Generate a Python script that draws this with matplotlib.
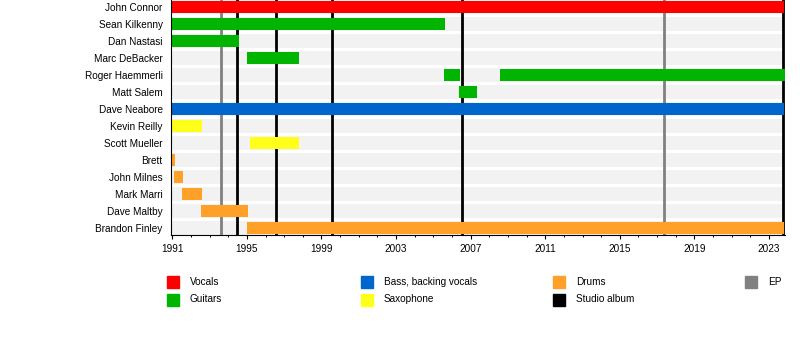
import matplotlib
matplotlib.use("Agg")
import matplotlib.pyplot as plt
from matplotlib.patches import Rectangle

plt.rcParams['font.family'] = ['Liberation Sans', 'DejaVu Sans']
plt.rcParams['font.size'] = 7.2

START = 1990.93
END = 2023.83

members = ["John Connor", "Sean Kilkenny", "Dan Nastasi", "Marc DeBacker",
           "Roger Haemmerli", "Matt Salem", "Dave Neabore", "Kevin Reilly",
           "Scott Mueller", "Brett", "John Milnes", "Mark Marri",
           "Dave Maltby", "Brandon Finley"]

roles = ["Vocals", "Guitars", "Bass, backing vocals", "Drums", "Saxophone"]
role_colors = ["#ff0000", "#00b400", "#0066cc", "#ffa028", "#ffff1a"]

# one entry per stint
stint_member = ["John Connor", "Sean Kilkenny", "Dan Nastasi", "Marc DeBacker",
                "Roger Haemmerli", "Roger Haemmerli", "Matt Salem", "Dave Neabore",
                "Kevin Reilly", "Scott Mueller", "Brett", "John Milnes",
                "Mark Marri", "Dave Maltby", "Brandon Finley"]
stint_role = ["Vocals", "Guitars", "Guitars", "Guitars",
              "Guitars", "Guitars", "Guitars", "Bass, backing vocals",
              "Saxophone", "Saxophone", "Drums", "Drums",
              "Drums", "Drums", "Drums"]
stint_start = [START, START, START, 1995.0,
               2005.57, 2008.57, 2006.37, START,
               START, 1995.17, START, 1991.09,
               1991.52, 1992.52, 1995.0]
stint_end = [END, 2005.62, 1994.55, 1997.78,
             2006.42, END, 2007.33, END,
             1992.6, 1997.81, 1991.15, 1991.57,
             1992.59, 1995.06, END]

studio_albums = [1994.49, 1996.58, 1999.58, 2006.52, 2023.77]
eps = [1993.61, 2017.38]

fig = plt.figure(figsize=(8, 3.54), dpi=100)
ax = fig.add_axes([171 / 800, 1 - 235 / 354, (784.5 - 171) / 800, 235 / 354])

ypos = {m: i for i, m in enumerate(members)}

# background stripes
ax.barh(range(len(members)), END - START, left=START, height=0.8,
        color="#f2f2f2", zorder=0)

for x in studio_albums:
    ax.axvline(x, color="black", lw=2.0, zorder=1)
for x in eps:
    ax.axvline(x, color="#808080", lw=2.0, zorder=1)

for m, r, s, e in zip(stint_member, stint_role, stint_start, stint_end):
    ax.barh(ypos[m], e - s, left=s, height=0.68,
            color=role_colors[roles.index(r)], zorder=2)

ax.set_xlim(START, END)
ax.set_ylim(len(members) - 0.6, -0.42)
ax.set_yticks(range(len(members)))
ax.set_yticklabels(members)
ax.set_xticks(range(1991, 2024, 4))
ax.set_xticks(range(1991, 2024), minor=True)
ax.tick_params(axis="y", length=0, pad=6)
ax.tick_params(axis="x", which="major", length=3.2, width=0.8, pad=3)
ax.tick_params(axis="x", which="minor", length=1.5, width=0.7)
for side in ["top", "right"]:
    ax.spines[side].set_visible(False)
ax.spines["left"].set_linewidth(0.8)
ax.spines["bottom"].set_linewidth(0.8)

# legend
legend_labels = ["Vocals", "Guitars", "Bass, backing vocals", "Saxophone",
                 "Drums", "Studio album", "EP"]
legend_colors = ["#ff0000", "#00b400", "#0066cc", "#ffff1a",
                 "#ffa028", "black", "#808080"]
col_x = [167, 361, 553, 745]
row_y = [282, 299.5]
for i, (lab, col) in enumerate(zip(legend_labels, legend_colors)):
    cx = col_x[i // 2]
    cy = row_y[i % 2]
    fig.add_artist(Rectangle((cx / 800, 1 - (cy + 6) / 354), 12 / 800, 12 / 354,
                             transform=fig.transFigure, color=col))
    fig.text((cx + 23) / 800, 1 - cy / 354, lab, va="center", ha="left")

fig.savefig("out.png", dpi=100)
